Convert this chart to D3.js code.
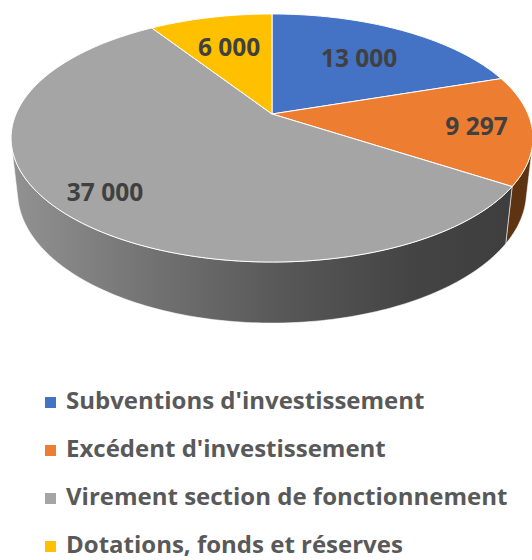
<!DOCTYPE html>
<html>
<head>
<meta charset="utf-8">
<script src="https://cdn.jsdelivr.net/npm/d3@7"></script>
<style>
body { margin: 0; background: #fff; }
</style>
</head>
<body>
<script>
// données
var categories = ["Subventions d'investissement", "Excédent d'investissement", "Virement section de fonctionnement", "Dotations, fonds et réserves"];
var values = [13000, 9297, 37000, 6000];
var labels = ["13 000", "9 297", "37 000", "6 000"];

var colors = ["#4472C4", "#ED7D31", "#A5A5A5", "#FFC000"];
var sideColors = ["#2a4a80", "#5e3312", "url(#graySide)", "#a07a00"];
// position des étiquettes (fraction du rayon)
var labelRadius = [0.64, 0.79, 0.82, 0.66];

var width = 532, height = 560;

// projection perspective du disque (rayon 1)
var cx = 272, cy = 114;
var phi = 27.8 * Math.PI / 180;
var D = 4.572;
var f = 256 * D;
var H = 0.24; // épaisseur

function proj(X, Y, Z) {
    var depth = D - (Y * Math.cos(phi) + Z * Math.sin(phi));
    var up = -Y * Math.sin(phi) + Z * Math.cos(phi);
    return [cx + f * X / depth, cy - f * up / depth];
}
// angle en radians, 0 = haut, sens horaire
function rim(a, r, z) {
    return proj(r * Math.sin(a), -r * Math.cos(a), z);
}
function arcPts(a0, a1, r, z) {
    var n = Math.max(2, Math.ceil(Math.abs(a1 - a0) / (Math.PI / 180)));
    return d3.range(n + 1).map(function (i) { return rim(a0 + (a1 - a0) * i / n, r, z); });
}

var svg = d3.select("body").append("svg").attr("width", width).attr("height", height);

var grad = svg.append("defs").append("linearGradient").attr("id", "graySide")
    .attr("gradientUnits", "userSpaceOnUse").attr("x1", 12).attr("x2", 512).attr("y1", 0).attr("y2", 0);
grad.selectAll("stop").data([[0, "#929292"], [0.3, "#707070"], [0.55, "#575757"], [0.8, "#444444"], [1, "#3e3e3e"]])
    .enter().append("stop").attr("offset", function (d) { return d[0]; }).attr("stop-color", function (d) { return d[1]; });

var pie = d3.pie().sort(null).value(function (d) { return d; });
var arcs = pie(values);

// partie visible du flanc
var sMin = Math.asin(1 / (D * Math.cos(phi)));
var visA = Math.PI / 2 + sMin, visB = 3 * Math.PI / 2 - sMin;

var line = d3.line();

svg.selectAll(".side").data(arcs).enter().append("path")
    .attr("d", function (d) {
        var a0 = Math.max(d.startAngle, visA), a1 = Math.min(d.endAngle, visB);
        if (a1 <= a0) return null;
        var pts = arcPts(a0, a1, 1, 0).concat(arcPts(a1, a0, 1, -H));
        return line(pts) + "Z";
    })
    .attr("fill", function (d, i) { return sideColors[i]; })
    .attr("stroke", "#fff").attr("stroke-width", 0.8).attr("stroke-opacity", 0.7);

svg.selectAll(".top").data(arcs).enter().append("path")
    .attr("d", function (d) {
        var pts = [proj(0, 0, 0)].concat(arcPts(d.startAngle, d.endAngle, 1, 0));
        return line(pts) + "Z";
    })
    .attr("fill", function (d, i) { return colors[i]; })
    .attr("stroke", "#fff").attr("stroke-width", 1).attr("stroke-linejoin", "round");

svg.selectAll(".lbl").data(arcs).enter().append("text")
    .attr("x", function (d, i) { return rim((d.startAngle + d.endAngle) / 2, labelRadius[i], 0)[0]; })
    .attr("y", function (d, i) { return rim((d.startAngle + d.endAngle) / 2, labelRadius[i], 0)[1]; })
    .attr("dy", "0.36em")
    .attr("text-anchor", "middle")
    .attr("font-family", "'Open Sans', sans-serif").attr("font-weight", 700).attr("font-size", 24.5)
    .attr("fill", "#404040")
    .text(function (d, i) { return labels[i]; });

// légende
var legend = svg.selectAll(".leg").data(categories).enter().append("g")
    .attr("transform", function (d, i) { return "translate(45," + (402.5 + i * 48) + ")"; });
legend.append("rect").attr("x", 0).attr("y", -5.5).attr("width", 11).attr("height", 11)
    .attr("fill", function (d, i) { return colors[i]; });
legend.append("text").attr("x", 21).attr("y", 6.5)
    .attr("font-family", "'Open Sans', sans-serif").attr("font-weight", 700).attr("font-size", 24)
    .attr("fill", "#595959")
    .text(function (d) { return d; });
</script>
</body>
</html>
